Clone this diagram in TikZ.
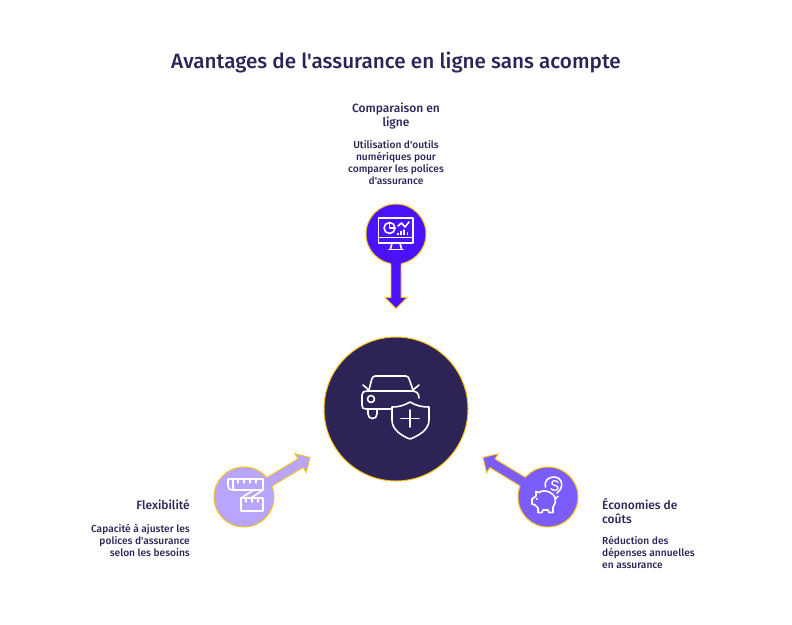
\documentclass[tikz,border=0pt]{standalone}
\usepackage{fontspec}
\setmainfont{Fira Sans}[BoldFont={Fira Sans Medium}, Ligatures=TeXOff]
\usetikzlibrary{calc}
\definecolor{inkdark}{HTML}{2E2357}
\definecolor{rimyellow}{HTML}{F5C518}
\definecolor{viodeep}{HTML}{4A12FF}
\definecolor{viomid}{HTML}{7C5CFC}
\definecolor{violight}{HTML}{B9A5FF}
\tikzset{
	disc/.style={circle, draw=rimyellow, line width=1pt, minimum size=60pt, inner sep=0pt},
	heading/.style={inner sep=0pt, text=inkdark, font=\bfseries\fontsize{12}{14}\selectfont},
	blurb/.style={inner sep=0pt, text=inkdark, font=\bfseries\fontsize{10.2}{12.2}\selectfont},
	icon/.style={draw=white, line width=1.6pt, line cap=round, line join=round},
}
% #1 colour, #2 disc, #3 tip
\def\fatarrow[#1](#2)(#3){
	\coordinate (s) at ($(#2.center)!29pt!(#3)$);
	\coordinate (n) at ($(#3)!11pt!(#2.center)$);
	\fill[#1] ($(s)!5pt!90:(#3)$) -- ($(n)!5pt!90:(#3)$) -- ($(n)!11pt!90:(#3)$) -- (#3) -- ($(n)!11pt!-90:(#3)$) -- ($(n)!5pt!-90:(#3)$) -- ($(s)!5pt!-90:(#3)$) -- cycle;
	\draw[rimyellow, line width=0.9pt, line join=miter] ($($(s)!1.5pt!(#3)$)!5pt!90:(#3)$) -- ($(n)!5pt!90:(#3)$) -- ($(n)!11pt!90:(#3)$) -- (#3) -- ($(n)!11pt!-90:(#3)$) -- ($(n)!5pt!-90:(#3)$) -- ($($(s)!1.5pt!(#3)$)!5pt!-90:(#3)$);
}

\begin{document}
\begin{tikzpicture}[x=1pt, y=-1pt]
	%%%%% START %%%%%
	\useasboundingbox (0, 0) rectangle (792, 624);
	
	\node[inner sep=0pt, text=inkdark, font=\bfseries\fontsize{20.7}{24}\selectfont] (title) at (396, 62.5) {Avantages de l'assurance en ligne sans acompte};
	
	\node[disc, fill=inkdark, minimum size=144pt] (hub) at (396, 409) {};
	\node[disc, fill=viodeep] (compare) at (396, 234) {};
	\node[disc, fill=violight] (flex) at (244, 497) {};
	\node[disc, fill=viomid] (saving) at (548, 497) {};
	
	\coordinate (comparetip) at (396, 308.5);
	\coordinate (flextip) at (310, 457.5);
	\coordinate (savingtip) at (483, 457.5);
	\fatarrow[viodeep](compare)(comparetip)
	\fatarrow[violight](flex)(flextip)
	\fatarrow[viomid](saving)(savingtip)
	
	% texts
	\node[heading, align=center, anchor=north] (comparehead) at (396, 102.5) {Comparaison en\\ligne};
	\node[blurb, align=center, anchor=north] (compareblurb) at (396, 140) {Utilisation d'outils\\numériques pour\\comparer les polices\\d'assurance};
	\node[heading, align=right, anchor=north east] (flexhead) at (190, 499.5) {Flexibilité};
	\node[blurb, align=right, anchor=north east] (flexblurb) at (190, 524) {Capacité à ajuster les\\polices d'assurance\\selon les besoins};
	\node[heading, align=left, anchor=north west] (savinghead) at (602, 498) {Économies de\\coûts};
	\node[blurb, align=left, anchor=north west] (savingblurb) at (602, 536) {Réduction des\\dépenses annuelles\\en assurance};
	
	% hub icon
	\draw[icon] (369, 390) -- (371.5, 380) .. controls (372, 378) and (373, 376) .. (375, 376) -- (406, 376) .. controls (408, 376) and (409, 378) .. (409.5, 380) -- (413, 390);
	\draw[icon] (391, 409) -- (366, 409) .. controls (363, 409) and (362, 408) .. (362, 405) -- (362, 395) .. controls (362, 392) and (364, 391) .. (367, 391) -- (412, 391) .. controls (416, 391) and (419, 393) .. (419, 398);
	\draw[icon] (363, 385) -- (369, 390);
	\draw[icon] (419, 385) -- (413, 390);
	\draw[icon] (371, 399) circle (3.5);
	\draw[icon] (368, 409) -- (368, 414) .. controls (368, 420) and (377, 420) .. (377, 414) -- (377, 409);
	\draw[icon] (410, 402) .. controls (403, 406) and (398, 407) .. (392, 407) -- (392, 420) .. controls (392, 430) and (402, 436) .. (410, 439) .. controls (418, 436) and (429, 430) .. (429, 420) -- (429, 407) .. controls (422, 407) and (417, 406) .. (410, 402) -- cycle;
	\draw[icon] (410, 410) -- (410, 427);
	\draw[icon] (401, 418.5) -- (419, 418.5);
	
	% monitor icon
	\draw[icon] (378.5, 218) rectangle (413, 243);
	\draw[icon] (378.5, 237.5) -- (413, 237.5);
	\draw[icon] (392, 243) -- (390.5, 249);
	\draw[icon] (400, 243) -- (401.5, 249);
	\draw[icon] (389, 249.5) -- (403, 249.5);
	\draw[icon] (389.5, 228) circle (5.5);
	\draw[icon] (389.5, 222.5) -- (389.5, 228) -- (395, 228);
	\draw[icon] (398, 226) -- (401.5, 223) -- (405, 227) -- (409, 222);
	\draw[icon] (398, 234.5) -- (398, 233.5);
	\draw[icon] (401, 234.5) -- (401, 231.5);
	\draw[icon] (404, 234.5) -- (404, 230);
	\draw[icon] (407.5, 234.5) -- (407.5, 233);
	
	% ruler icon
	\draw[icon] (228, 479) -- (263, 479) -- (263, 490) -- (233, 490) .. controls (230, 490) and (228, 489) .. (228, 486) -- cycle;
	\draw[icon] (233, 479) -- (233, 490);
	\draw[icon] (241, 498) -- (263, 498) -- (263, 511) -- (241, 511) -- cycle;
	\draw[icon] (254, 490) -- (241, 498);
	\draw[icon] (263, 490) -- (251, 498);
	\foreach \tickx in {238, 244, 250, 256}
		\draw[icon, line width=1.2pt] (\tickx, 479) -- (\tickx, 483);
	\foreach \tickx in {246, 252, 258}
		\draw[icon, line width=1.2pt] (\tickx, 498) -- (\tickx, 502);
	
	% piggy icon
	\draw[icon] (553, 494.5) .. controls (548, 490) and (542, 490) .. (539, 492.5) -- (536, 491.5) -- (536, 496) -- (532, 499) -- (532, 504) -- (535, 505) -- (538, 508) -- (538, 512.5) -- (542, 512.5) -- (543, 510) -- (548, 510) -- (549, 512.5) -- (553, 512.5) -- (553, 507) .. controls (556, 503) and (556.5, 498) .. (553, 494.5);
	\draw[icon] (555, 499) -- (558, 496.5);
	\draw[icon] (536.5, 499) -- (537, 499);
	\draw[icon] (545.5, 487) .. controls (544, 480) and (549, 477) .. (554, 477) .. controls (562, 477) and (565, 487) .. (557, 493);
	\draw[icon, line width=1.3pt] (558, 482.5) .. controls (556, 479.5) and (551, 480.5) .. (552, 483.5) .. controls (553, 486) and (558, 485) .. (558, 488) .. controls (558, 491) and (552, 491) .. (551, 488.5);
	
	%%%%% END %%%%%
\end{tikzpicture}
\end{document}
